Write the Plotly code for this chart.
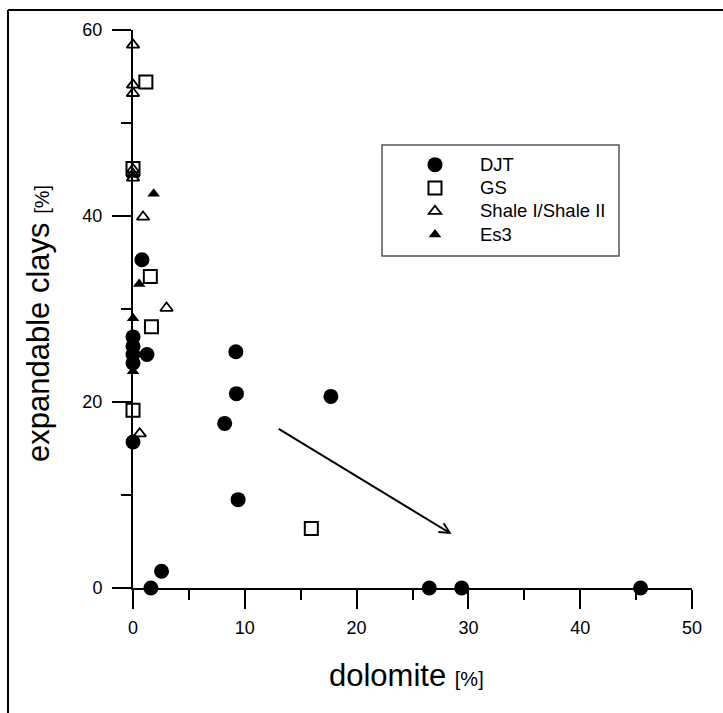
import plotly.graph_objects as go

# ---- data ----
djt_x = [0.8, 0.0, 0.0, 0.0, 0.0, 1.25, 0.0, 9.2, 9.25, 8.2, 17.7, 9.4, 2.55, 1.6, 26.5, 29.4, 45.4]
djt_y = [35.3, 27.0, 26.0, 25.1, 24.2, 25.1, 15.7, 25.4, 20.9, 17.7, 20.6, 9.5, 1.8, 0.0, 0.0, 0.0, 0.0]

gs_x = [1.15, 0.0, 1.55, 1.65, 0.0, 15.95]
gs_y = [54.4, 45.1, 33.5, 28.1, 19.1, 6.4]

shale_x = [0.0, 0.0, 0.0, 0.0, 0.0, 0.0, 0.9, 3.0, 0.6]
shale_y = [58.4, 54.1, 53.2, 45.0, 44.5, 44.1, 39.9, 30.1, 16.6]

es3_x = [1.85, 0.55, 0.0, 0.0]
es3_y = [42.4, 32.7, 29.0, 23.3]

series_names = ["DJT", "GS", "Shale I/Shale II", "Es3"]

arrow_tail = (12.9, 17.2)
arrow_head = (28.5, 5.8)

x_ticks = [0, 10, 20, 30, 40, 50]
y_ticks = [0, 20, 40, 60]

# ---- layout geometry ----
W, H = 723, 713
L, R, T, B = 133, 31, 30, 125
PW, PH = W - L - R, H - T - B


def px(xp):
    return (xp - L) / PW


def py(yp):
    return (H - B - yp) / PH


FONT = "Arial, Liberation Sans, sans-serif"


def legend_name(s):
    return '<span style="font-size:18.5px">%s</span>' % s


fig = go.Figure()
fig.add_trace(go.Scatter(x=djt_x, y=djt_y, mode="markers", name=legend_name(series_names[0]),
                         marker=dict(symbol="circle", size=15, color="black"),
                         cliponaxis=False))
fig.add_trace(go.Scatter(x=gs_x, y=gs_y, mode="markers", name=legend_name(series_names[1]),
                         marker=dict(symbol="square-open", size=13, color="black",
                                     line=dict(width=2, color="black")),
                         cliponaxis=False))
fig.add_trace(go.Scatter(x=shale_x, y=shale_y, mode="markers", name=legend_name(series_names[2]),
                         marker=dict(symbol="triangle-up-open", size=11, color="black",
                                     line=dict(width=1.8, color="black")),
                         cliponaxis=False))
fig.add_trace(go.Scatter(x=es3_x, y=es3_y, mode="markers", name=legend_name(series_names[3]),
                         marker=dict(symbol="triangle-up", size=11, color="black"),
                         cliponaxis=False))

axis_common = dict(showgrid=False, zeroline=False, showline=True, linecolor="black",
                   linewidth=2, ticks="outside", tickcolor="black", tickwidth=2,
                   ticklen=19, tickfont=dict(family=FONT, size=18, color="black"))

fig.update_xaxes(range=[0, 50], tickvals=x_ticks, ticklabelstandoff=3,
                 minor=dict(dtick=5, ticks="outside", ticklen=10, tickwidth=2,
                            tickcolor="black"),
                 **axis_common)
fig.update_yaxes(range=[0, 60], tickvals=y_ticks, ticklabelstandoff=6,
                 minor=dict(dtick=10, ticks="outside", ticklen=10, tickwidth=2,
                            tickcolor="black"),
                 **axis_common)

# arrow
fig.add_annotation(x=arrow_head[0], y=arrow_head[1], ax=arrow_tail[0], ay=arrow_tail[1],
                   xref="x", yref="y", axref="x", ayref="y", text="", showarrow=True,
                   arrowhead=5, arrowsize=1, arrowwidth=2, arrowcolor="black", standoff=0)

# axis titles
fig.add_annotation(x=px(406), y=py(675), xref="paper", yref="paper", showarrow=False,
                   text='dolomite <span style="font-size:20px">[%]</span>',
                   font=dict(family=FONT, size=31, color="black"),
                   xanchor="center", yanchor="middle")
fig.add_annotation(x=px(38), y=py(324), xref="paper", yref="paper", showarrow=False,
                   text='expandable clays <span style="font-size:20px">[%]</span>',
                   textangle=-90,
                   font=dict(family=FONT, size=31, color="black"),
                   xanchor="center", yanchor="middle")

# legend box
fig.add_shape(type="rect", xref="paper", yref="paper",
              x0=px(382), x1=px(619), y0=py(256), y1=py(145),
              line=dict(color="#555555", width=1.5), fillcolor="rgba(0,0,0,0)")
# outer frame: only top and left edges are visible in the page
fig.add_shape(type="line", xref="paper", yref="paper",
              x0=px(8), x1=px(760), y0=py(10), y1=py(10),
              line=dict(color="black", width=2))
fig.add_shape(type="line", xref="paper", yref="paper",
              x0=px(8), x1=px(8), y0=py(10), y1=py(760),
              line=dict(color="black", width=2))

fig.update_layout(
    width=W, height=H,
    margin=dict(l=L, r=R, t=T, b=B, pad=0),
    paper_bgcolor="white", plot_bgcolor="white",
    showlegend=True,
    legend=dict(x=px(390), y=py(148), xanchor="left", yanchor="top",
                bgcolor="rgba(0,0,0,0)", borderwidth=0, itemwidth=80,
                font=dict(family=FONT, size=15.6, color="black"),
                tracegroupgap=0),
    font=dict(family=FONT, color="black"),
)

fig.write_html("out.html")
